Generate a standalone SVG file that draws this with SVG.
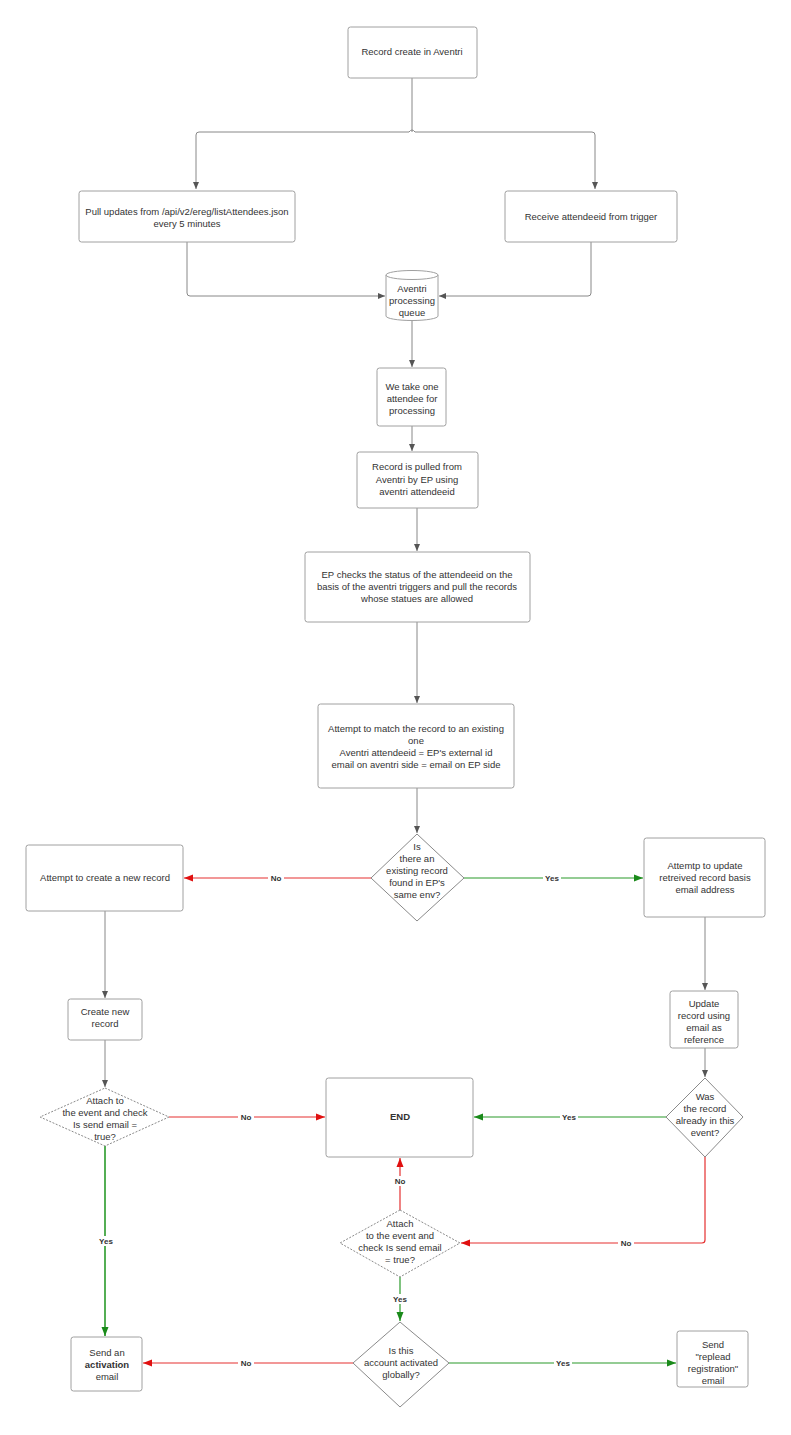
<svg xmlns="http://www.w3.org/2000/svg" width="791" height="1435" viewBox="0 0 791 1435">
<style>
.n{fill:#fff;stroke:#a0a0a0;stroke-width:1}
.d{fill:#fff;stroke:#8a8a8a;stroke-width:1}
.dd{fill:#fff;stroke:#8a8a8a;stroke-width:1;stroke-dasharray:2,1.5}
text{font-family:"Liberation Sans",Arial,sans-serif;font-size:9.5px;fill:#333;text-anchor:middle}
.b{font-weight:bold}
.lb{font-size:8px;font-weight:bold;fill:#333}
.g{fill:none;stroke:#888;stroke-width:1}
.r{fill:none;stroke:#e53030;stroke-width:1.2}
.gr{fill:none;stroke:#2a9a2a;stroke-width:1.2}
.lbg{fill:#fff}
</style>
<defs>
<marker id="ag" markerWidth="8" markerHeight="8" refX="7" refY="4" orient="auto" markerUnits="userSpaceOnUse"><path d="M0,1 L7,4 L0,7 z" fill="#555"/></marker>
<marker id="ar" markerWidth="10" markerHeight="10" refX="9" refY="4" orient="auto" markerUnits="userSpaceOnUse"><path d="M0,0.5 L9,4 L0,7.5 z" fill="#e01010"/></marker>
<marker id="agr" markerWidth="10" markerHeight="10" refX="9" refY="4" orient="auto" markerUnits="userSpaceOnUse"><path d="M0,0.5 L9,4 L0,7.5 z" fill="#1a8a1a"/></marker>
</defs>
<rect width="791" height="1435" fill="#fff"/>

<g id="connectors">
<path class="g" d="M412,78 V132"/>
<path class="g" d="M409,132 H199 Q196,132 196,135 V189" marker-end="url(#ag)"/>
<path class="g" d="M415,132 H592 Q595,132 595,135 V189" marker-end="url(#ag)"/>
<path class="g" d="M409,132 Q412,128 415,132"/>
<path class="g" d="M187,242 V293 Q187,296 190,296 H385" marker-end="url(#ag)"/>
<path class="g" d="M591,242 V293 Q591,296 588,296 H439" marker-end="url(#ag)"/>
<path class="g" d="M412,321 V367" marker-end="url(#ag)"/>
<path class="g" d="M412,426 V451" marker-end="url(#ag)"/>
<path class="g" d="M417,508 V551" marker-end="url(#ag)"/>
<path class="g" d="M417,622 V703" marker-end="url(#ag)"/>
<path class="g" d="M417,788 V833" marker-end="url(#ag)"/>
<path class="r" d="M371,878 H184" marker-end="url(#ar)"/>
<path class="gr" d="M464,878 H643" marker-end="url(#agr)"/>
<path class="g" d="M105,911 V998" marker-end="url(#ag)"/>
<path class="g" d="M705,917 V990" marker-end="url(#ag)"/>
<path class="g" d="M105,1040 V1087" marker-end="url(#ag)"/>
<path class="g" d="M705,1048 V1077" marker-end="url(#ag)"/>
<path class="r" d="M169,1117 H325" marker-end="url(#ar)"/>
<path class="gr" d="M666,1117 H474" marker-end="url(#agr)"/>
<path class="r" d="M705,1157 V1240 Q705,1243 702,1243 H461" marker-end="url(#ar)"/>
<path class="r" d="M400,1210 V1158" marker-end="url(#ar)"/>
<path class="gr" d="M400,1277 V1321" marker-end="url(#agr)"/>
<path class="gr" style="stroke-width:1.6" d="M105,1146 V1336" marker-end="url(#agr)"/>
<path class="r" d="M353,1363 H143" marker-end="url(#ar)"/>
<path class="gr" d="M449,1363 H676" marker-end="url(#agr)"/>
<rect class="lbg" x="268" y="873" width="16" height="10"/><text class="lb" x="276" y="881">No</text>
<rect class="lbg" x="543" y="873" width="18" height="10"/><text class="lb" x="552" y="881">Yes</text>
<rect class="lbg" x="238" y="1112" width="16" height="10"/><text class="lb" x="246" y="1120">No</text>
<rect class="lbg" x="560" y="1112" width="18" height="10"/><text class="lb" x="569" y="1120">Yes</text>
<rect class="lbg" x="618" y="1238" width="16" height="10"/><text class="lb" x="626" y="1246">No</text>
<rect class="lbg" x="392" y="1176" width="16" height="10"/><text class="lb" x="400" y="1184">No</text>
<rect class="lbg" x="391" y="1294" width="18" height="10"/><text class="lb" x="400" y="1302">Yes</text>
<rect class="lbg" x="97" y="1236" width="18" height="10"/><text class="lb" x="106" y="1244">Yes</text>
<rect class="lbg" x="238" y="1358" width="16" height="10"/><text class="lb" x="246" y="1366">No</text>
<rect class="lbg" x="554" y="1358" width="18" height="10"/><text class="lb" x="563" y="1366">Yes</text>
</g>

<g id="n1"><rect class="n" x="348" y="27" width="129" height="51" rx="2.5"/><text x="412" y="55">Record create in Aventri</text></g>
<g id="n2"><rect class="n" x="79" y="191" width="216" height="51" rx="2.5"/><text x="187" y="215">Pull updates from /api/v2/ereg/listAttendees.json</text><text x="187" y="227">every 5 minutes</text></g>
<g id="n3"><rect class="n" x="505" y="191" width="172" height="51" rx="2.5"/><text x="591" y="220">Receive attendeeid from trigger</text></g>
<g id="n4"><path class="n" d="M386,275 V316 A26,4.5 0 0 0 438,316 V275 A26,4.5 0 0 0 386,275 A26,4.5 0 0 0 438,275"/><text x="412" y="292">Aventri</text><text x="412" y="304">processing</text><text x="412" y="316">queue</text></g>
<g id="n5"><rect class="n" x="377" y="368" width="69" height="58" rx="2.5"/><text x="412" y="390">We take one</text><text x="412" y="402">attendee for</text><text x="412" y="414">processing</text></g>
<g id="n6"><rect class="n" x="357" y="452" width="121" height="56" rx="2.5"/><text x="417" y="470">Record is pulled from</text><text x="417" y="483">Aventri by EP using</text><text x="417" y="495">aventri attendeeid</text></g>
<g id="n7"><rect class="n" x="305" y="552" width="225" height="70" rx="2.5"/><text x="417" y="578">EP checks the status of the attendeeid on the</text><text x="417" y="590">basis of the aventri triggers and pull the records</text><text x="417" y="602">whose statues are allowed</text></g>
<g id="n8"><rect class="n" x="318" y="704" width="196" height="84" rx="2.5"/><text x="416" y="732">Attempt to match the record to an  existing</text><text x="416" y="744">one</text><text x="416" y="756">Aventri attendeeid = EP's external id</text><text x="416" y="768">email on aventri side  = email on EP side</text></g>
<g id="n9"><path class="d" d="M417,834 L464,878 L417,921 L371,878 Z"/><text x="417" y="850">Is</text><text x="417" y="862">there an</text><text x="417" y="874">existing record</text><text x="417" y="886">found in EP's</text><text x="417" y="898">same env?</text></g>
<g id="n10"><rect class="n" x="26" y="845" width="157" height="66" rx="2.5"/><text x="105" y="881">Attempt to create a new record</text></g>
<g id="n11"><rect class="n" x="644" y="838" width="121" height="79" rx="2.5"/><text x="705" y="869">Attemtp to update</text><text x="705" y="881">retreived record basis</text><text x="705" y="893">email address</text></g>
<g id="n12"><rect class="n" x="68" y="999" width="74" height="41" rx="2.5"/><text x="105" y="1015">Create new</text><text x="105" y="1027">record</text></g>
<g id="n13"><rect class="n" x="670" y="991" width="68" height="57" rx="2.5"/><text x="704" y="1007">Update</text><text x="704" y="1019">record using</text><text x="704" y="1031">email as</text><text x="704" y="1043">reference</text></g>
<g id="n14"><path class="dd" d="M105,1088 L169,1117 L105,1146 L40,1117 Z"/><text x="105" y="1104">Attach to</text><text x="105" y="1116">the event and check</text><text x="105" y="1128">Is send email =</text><text x="105" y="1140">true?</text></g>
<g id="n15"><rect class="n" x="326" y="1078" width="147" height="79" rx="2.5"/><text class="b" x="400" y="1120">END</text></g>
<g id="n16"><path class="d" d="M705,1078 L743,1117 L705,1157 L666,1117 Z"/><text x="705" y="1100">Was</text><text x="705" y="1112">the record</text><text x="705" y="1124">already in this</text><text x="705" y="1136">event?</text></g>
<g id="n17"><path class="dd" d="M400,1210 L460,1243 L400,1277 L340,1243 Z"/><text x="400" y="1227">Attach</text><text x="400" y="1239">to the event and</text><text x="400" y="1251">check Is  send email</text><text x="400" y="1263">= true?</text></g>
<g id="n18"><path class="d" d="M400,1322 L449,1363 L400,1407 L353,1363 Z"/><text x="401" y="1354">Is this</text><text x="401" y="1366">account activated</text><text x="401" y="1378">globally?</text></g>
<g id="n19"><rect class="n" x="71" y="1337" width="71" height="54" rx="2.5"/><text x="107" y="1356">Send an</text><text class="b" x="107" y="1368">activation</text><text x="107" y="1380">email</text></g>
<g id="n20"><rect class="n" x="677" y="1331" width="71" height="56" rx="2.5"/><text x="713" y="1348">Send</text><text x="713" y="1360">"replead</text><text x="713" y="1372">registration"</text><text x="713" y="1384">email</text></g>
</svg>
